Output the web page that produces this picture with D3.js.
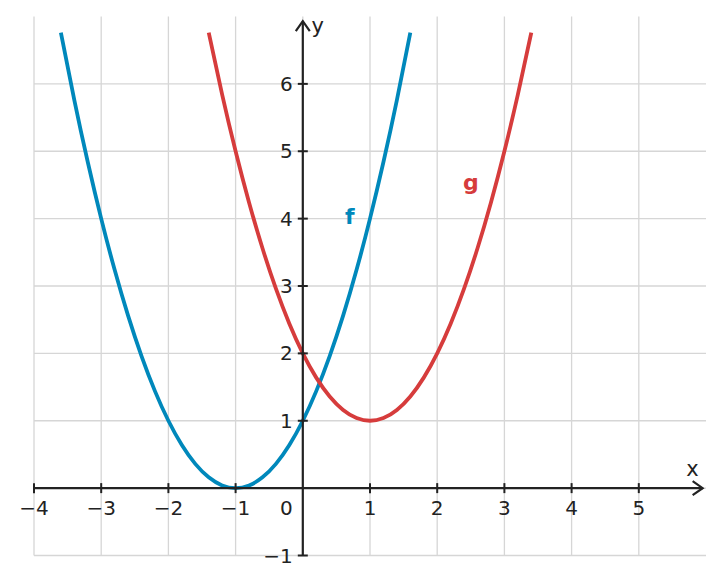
<!DOCTYPE html>
<html><head><meta charset="utf-8">
<script src="https://cdn.jsdelivr.net/npm/d3@7"></script>
<style>body{margin:0;background:#fff}</style>
</head><body>
<svg id="c" width="724" height="584"></svg>
<script>
const xTicks=[-4,-3,-2,-1,1,2,3,4,5];
const yTicks=[1,2,3,4,5,6];
const fX=[-3.6,-3.4,-3.2,-3,-2.8,-2.6,-2.4,-2.2,-2,-1.8,-1.6,-1.4,-1.2,-1,-0.8,-0.6,-0.4,-0.2,0,0.2,0.4,0.6,0.8,1,1.2,1.4,1.6];
const fY=[6.76,5.76,4.84,4,3.24,2.56,1.96,1.44,1,0.64,0.36,0.16,0.04,0,0.04,0.16,0.36,0.64,1,1.44,1.96,2.56,3.24,4,4.84,5.76,6.76];
const gX=[-1.4,-1.2,-1,-0.8,-0.6,-0.4,-0.2,0,0.2,0.4,0.6,0.8,1,1.2,1.4,1.6,1.8,2,2.2,2.4,2.6,2.8,3,3.2,3.4];
const gY=[6.76,5.84,5,4.24,3.56,2.96,2.44,2,1.64,1.36,1.16,1.04,1,1.04,1.16,1.36,1.64,2,2.44,2.96,3.56,4.24,5,5.84,6.76];

const svg=d3.select("#c");
const x=d3.scaleLinear().domain([-4,6]).range([34,706]);
const y=d3.scaleLinear().domain([-1,7]).range([555.5,16.5]);
const font="DejaVu Sans, sans-serif";
const g=svg.append("g");
d3.range(-4,6).forEach(v=>g.append("line").attr("x1",x(v)).attr("x2",x(v)).attr("y1",y(7)).attr("y2",y(-1)).attr("stroke","#d6d6d6").attr("stroke-width",1.3));
d3.range(-1,7).forEach(v=>g.append("line").attr("y1",y(v)).attr("y2",y(v)).attr("x1",x(-4)).attr("x2",x(6)).attr("stroke","#d6d6d6").attr("stroke-width",1.3));
const line=d3.line().x(d=>x(d[0])).y(d=>y(d[1])).curve(d3.curveNatural);
g.append("path").attr("d",line(fX.map((v,i)=>[v,fY[i]]))).attr("fill","none").attr("stroke","#0088bb").attr("stroke-width",3.8);
g.append("path").attr("d",line(gX.map((v,i)=>[v,gY[i]]))).attr("fill","none").attr("stroke","#d63c3c").attr("stroke-width",3.8);
const ax="#222";
g.append("line").attr("x1",x(-4)).attr("x2",x(5.95)).attr("y1",y(0)).attr("y2",y(0)).attr("stroke",ax).attr("stroke-width",2.2);
g.append("path").attr("d",`M${x(5.95)-10},${y(0)-7}L${x(5.95)},${y(0)}L${x(5.95)-10},${y(0)+7}`).attr("fill","none").attr("stroke",ax).attr("stroke-width",2.2);
g.append("line").attr("x1",x(0)).attr("x2",x(0)).attr("y1",y(-1)).attr("y2",y(6.93)).attr("stroke",ax).attr("stroke-width",2.2);
g.append("path").attr("d",`M${x(0)-7},${y(6.93)+10}L${x(0)},${y(6.93)}L${x(0)+7},${y(6.93)+10}`).attr("fill","none").attr("stroke",ax).attr("stroke-width",2.2);
xTicks.forEach(v=>{
  g.append("line").attr("x1",x(v)).attr("x2",x(v)).attr("y1",y(0)-5).attr("y2",y(0)+5).attr("stroke",ax).attr("stroke-width",2);
  g.append("text").attr("x",x(v)).attr("y",y(0)+27).attr("text-anchor","middle").attr("font-family",font).attr("font-size",20).attr("fill",ax).text(String(v).replace("-","−"));
});
yTicks.concat([-1]).forEach(v=>{
  g.append("line").attr("y1",y(v)).attr("y2",y(v)).attr("x1",x(0)-5).attr("x2",x(0)+5).attr("stroke",ax).attr("stroke-width",2);
  g.append("text").attr("x",x(0)-10).attr("y",y(v)+7).attr("text-anchor","end").attr("font-family",font).attr("font-size",20).attr("fill",ax).text(String(v).replace("-","−"));
});
g.append("text").attr("x",x(0)-10).attr("y",y(0)+27).attr("text-anchor","end").attr("font-family",font).attr("font-size",20).attr("fill",ax).text("0");
g.append("text").attr("x",x(5.8)).attr("y",y(0)-12).attr("text-anchor","middle").attr("font-family",font).attr("font-size",21).attr("fill",ax).text("x");
g.append("text").attr("x",x(0)+15).attr("y",y(6.75)).attr("text-anchor","middle").attr("font-family",font).attr("font-size",21).attr("fill",ax).text("y");
g.append("text").attr("x",x(0.7)).attr("y",y(4)+5).attr("text-anchor","middle").attr("font-family",font).attr("font-size",22).attr("font-weight","bold").attr("fill","#0088bb").text("f");
g.append("text").attr("x",x(2.5)).attr("y",y(4.5)+5).attr("text-anchor","middle").attr("font-family",font).attr("font-size",22).attr("font-weight","bold").attr("fill","#d63c3c").text("g");
</script>
</body></html>
